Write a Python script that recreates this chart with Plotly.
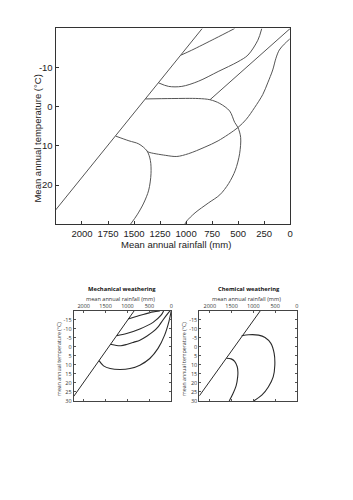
import plotly.graph_objects as go

# ---------------- data ----------------
# Main chart (mean annual rainfall mm, mean annual temperature °C)
main_xticks = [2000, 1750, 1500, 1250, 1000, 750, 500, 250, 0]
main_yticks = [-10, 0, 10, 20]
main_ytick_text = ["-10", "0", "10", "20"]

main_diag_x = [2254, 845]
main_diag_y = [26.4, -20]
main_diag2_x = [0, 770]
main_diag2_y = [-20, -1.8]
main_c1_x = [533, 724, 946, 1048]
main_c1_y = [-20, -17.4, -14.45, -13.2]
main_c2_x = [273, 311, 406, 502, 692, 883, 1041, 1168, 1264]
main_c2_y = [-20, -17.0, -13.2, -11.5, -9.0, -6.5, -5.2, -5.2, -6.1]
main_c3_x = [1391, 1137, 883, 771, 676, 581, 533, 502, 476, 486, 527, 591, 676, 787, 914, 994, 1012]
main_c3_y = [-2.0, -2.1, -2.1, -1.8, -0.84, 1.1, 4.0, 5.3, 7.8, 12.0, 16.2, 19.6, 22.5, 24.6, 27.1, 29.2, 30]
main_c4_x = [5, 57, 105, 137, 168, 216, 264, 343, 422, 502, 692, 819, 978, 1089, 1200, 1359, 1375]
main_c4_y = [-17.3, -16, -14.5, -12.4, -9.4, -6.1, -3.1, 0.25, 3.2, 5.3, 8.7, 10.3, 12.0, 12.7, 12.4, 11.6, 11.3]
main_c5_x = [1676, 1549, 1454, 1375, 1343, 1337, 1359, 1407, 1470, 1534]
main_c5_y = [7.5, 8.7, 9.5, 11.3, 13.7, 17.1, 21.3, 24.6, 27.6, 30]

# Small charts
small_xticks = [2000, 1500, 1000, 500, 0]
small_yticks = [-15, -10, -5, 0, 5, 10, 15, 20, 25, 30]
small_ytick_text = ["-15", "-10", "-5", "0", "5", "10", "15", "20", "25", "30"]

mech_diag_x = [2230, 850]
mech_diag_y = [27.5, -20]
mech_c1_x = [985, 800, 641, 415, 260]
mech_c1_y = [-15.5, -16.9, -18.1, -19.5, -20]
mech_c2_x = [1245, 1019, 717, 415, 227, 175]
mech_c2_y = [-6.3, -7.5, -10.0, -13.7, -17.8, -20]
mech_c3_x = [1390, 1250, 1150, 1020, 850, 717, 560, 415, 290, 189, 80, 30]
mech_c3_y = [-1.5, -0.8, -0.7, -1.4, -2.7, -3.8, -6, -8.5, -11.5, -15, -18.5, -20]
mech_c4_x = [1650, 1547, 1396, 1169, 943, 717, 490, 302, 151, 53, 0]
mech_c4_y = [7.6, 10.5, 12.0, 12.5, 12.0, 10.1, 6.4, 0.8, -6.6, -14.1, -20]

chem_diag_x = [2241, 844]
chem_diag_y = [27.2, -20]
chem_c1_x = [1270, 1106, 881, 732, 598, 523, 508, 545, 657, 807, 994]
chem_c1_y = [-6.2, -6.8, -6.6, -5.3, -2.0, 3.6, 10.1, 16.6, 22.2, 26.8, 30]
chem_c2_x = [1620, 1510, 1430, 1370, 1355, 1360, 1395, 1475, 1554]
chem_c2_y = [6.3, 6.6, 8.0, 11.0, 14.0, 16.6, 21.5, 26.3, 30]

# ---------------- figure ----------------
W, H = 353, 500
fig = go.Figure()

main_col = "#555555"
small_col = "#2a2a2a"

def add(xs, ys, xa, ya, col, w, shape="spline"):
    fig.add_trace(go.Scatter(x=xs, y=ys, xaxis=xa, yaxis=ya, mode="lines",
                             line=dict(color=col, width=w, shape=shape, smoothing=0.9),
                             hoverinfo="skip", showlegend=False))

add(main_diag_x, main_diag_y, "x", "y", main_col, 1, "linear")
add(main_diag2_x, main_diag2_y, "x", "y", main_col, 1, "linear")
for xs, ys in [(main_c1_x, main_c1_y), (main_c2_x, main_c2_y), (main_c3_x, main_c3_y),
               (main_c4_x, main_c4_y), (main_c5_x, main_c5_y)]:
    add(xs, ys, "x", "y", main_col, 1)

add(mech_diag_x, mech_diag_y, "x2", "y2", small_col, 1, "linear")
for xs, ys in [(mech_c1_x, mech_c1_y), (mech_c2_x, mech_c2_y), (mech_c3_x, mech_c3_y), (mech_c4_x, mech_c4_y)]:
    add(xs, ys, "x2", "y2", small_col, 1.1)

add(chem_diag_x, chem_diag_y, "x3", "y3", small_col, 1, "linear")
for xs, ys in [(chem_c1_x, chem_c1_y), (chem_c2_x, chem_c2_y)]:
    add(xs, ys, "x3", "y3", small_col, 1.1)

def px_x(p):
    return p / W

def px_y(p):
    return 1 - p / H

main_font = dict(family="Arial, Liberation Sans, sans-serif", size=9.5, color="#222")
small_font = dict(family="Open Sans, Liberation Sans, sans-serif", size=5.5, color="#333")

common_ax = dict(showgrid=False, zeroline=False, showline=True, linewidth=1, ticks="inside")

fig.update_layout(
    width=W, height=H, autosize=False,
    margin=dict(l=0, r=0, t=0, b=0),
    paper_bgcolor="white", plot_bgcolor="white",
    xaxis=dict(domain=[px_x(56), px_x(292.7)], anchor="y", range=[2254, 0],
               tickvals=main_xticks, ticklen=3, tickcolor="#333", linecolor="#333",
               mirror=True, tickfont=main_font, **common_ax),
    yaxis=dict(domain=[px_y(226), px_y(28.7)], anchor="x", range=[30, -20],
               tickvals=main_yticks, ticktext=main_ytick_text, ticklen=3, tickcolor="#333",
               linecolor="#333", mirror=True, tickfont=main_font, **common_ax),
    xaxis2=dict(domain=[px_x(74.3), px_x(172.7)], anchor="y2", range=[2230, 0], side="top",
                tickvals=small_xticks, ticklen=2, tickcolor="#555", linecolor="#444",
                mirror="ticks", tickfont=small_font, **common_ax),
    yaxis2=dict(domain=[px_y(404.2), px_y(313.5)], anchor="x2", range=[30, -20],
                tickvals=small_yticks, ticktext=small_ytick_text, ticklen=2, tickcolor="#555",
                linecolor="#444", mirror="ticks", tickfont=small_font, **common_ax),
    xaxis3=dict(domain=[px_x(201), px_x(299.5)], anchor="y3", range=[2241, 0], side="top",
                tickvals=small_xticks, ticklen=2, tickcolor="#555", linecolor="#444",
                mirror="ticks", tickfont=small_font, **common_ax),
    yaxis3=dict(domain=[px_y(404.2), px_y(313.5)], anchor="x3", range=[30, -20],
                tickvals=small_yticks, ticktext=small_ytick_text, ticklen=2, tickcolor="#555",
                linecolor="#444", mirror="ticks", tickfont=small_font, **common_ax),
)

ann = []
ann.append(dict(text="Mean annual rainfall (mm)", x=px_x(178), y=px_y(246.7),
                xref="paper", yref="paper", showarrow=False, xanchor="center", yanchor="middle",
                font=dict(family="Arial, Liberation Sans, sans-serif", size=9.5, color="#222")))
ann.append(dict(text="Mean annual temperature (°C)", x=px_x(38), y=px_y(140),
                xref="paper", yref="paper", showarrow=False, xanchor="center", yanchor="middle",
                textangle=-90,
                font=dict(family="Arial, Liberation Sans, sans-serif", size=9.5, color="#222")))
for cx, title in [(123.3, "Mechanical weathering"), (251, "Chemical weathering")]:
    ann.append(dict(text="<b>" + title + "</b>", x=px_x(cx), y=px_y(291.5),
                    xref="paper", yref="paper", showarrow=False, xanchor="center", yanchor="middle",
                    font=dict(family="Open Sans, Liberation Sans, sans-serif", size=5.8, color="#111")))
    ann.append(dict(text="mean annual rainfall (mm)", x=px_x(cx - 2), y=px_y(301),
                    xref="paper", yref="paper", showarrow=False, xanchor="center", yanchor="middle",
                    font=dict(family="Open Sans, Liberation Sans, sans-serif", size=5.6, color="#333")))
for cx in [59.3, 185.5]:
    ann.append(dict(text="mean annual temperature (°C)", x=px_x(cx), y=px_y(362),
                    xref="paper", yref="paper", showarrow=False, xanchor="center", yanchor="middle",
                    textangle=-90,
                    font=dict(family="Open Sans, Liberation Sans, sans-serif", size=5.2, color="#333")))
fig.update_layout(annotations=ann)

fig.write_html("out.html")
